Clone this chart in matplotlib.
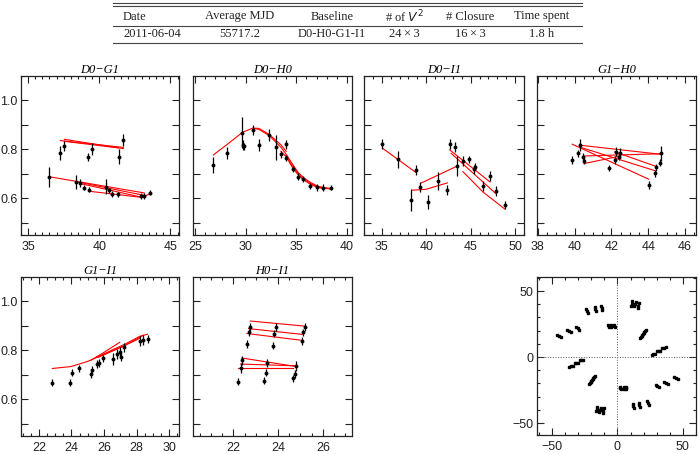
import numpy as np
import matplotlib
matplotlib.use("Agg")
import matplotlib.pyplot as plt
from matplotlib.lines import Line2D
from matplotlib.ticker import MultipleLocator, FixedLocator, NullFormatter

plt.rcParams['font.family'] = ['Liberation Sans', 'DejaVu Sans']

# table
table_header = ["Date", "Average MJD", "Baseline", "# of $V^2$", "# Closure", "Time spent"]
table_row = ["2011-06-04", "55717.2", "D0-H0-G1-I1", "24\u2009\u00d7\u20093", "16\u2009\u00d7\u20093", "1.8 h"]

# D0-G1
d0g1_x = [36.5, 37.27, 37.55, 38.37, 38.68, 38.91, 39.2, 39.27, 39.5, 40.46, 40.65, 40.89, 41.28, 41.35, 41.7, 42.93, 43.16, 43.56]
d0g1_y = [0.688, 0.784, 0.814, 0.667, 0.663, 0.644, 0.769, 0.636, 0.803, 0.647, 0.632, 0.617, 0.617, 0.770, 0.839, 0.610, 0.610, 0.623]
d0g1_err = [0.040, 0.028, 0.020, 0.030, 0.015, 0.012, 0.015, 0.010, 0.025, 0.030, 0.012, 0.012, 0.010, 0.030, 0.025, 0.012, 0.012, 0.010]
d0g1_model = [([37.27, 41.7], [0.836, 0.808]),
              ([37.55, 41.7], [0.841, 0.803]),
              ([37.55, 41.35], [0.833, 0.806]),
              ([36.5, 43.16], [0.688, 0.622]),
              ([38.37, 43.16], [0.668, 0.612]),
              ([38.68, 42.93], [0.660, 0.605]),
              ([39.27, 42.95, 43.56], [0.629, 0.604, 0.618])]

# D0-H0
d0h0_x = [26.8, 28.12, 29.64, 29.74, 29.85, 30.72, 31.3, 32.26, 32.95, 33.48, 34.0, 33.95, 34.67, 35.2, 35.7, 36.4, 37.07, 37.6, 38.4]
d0h0_y = [0.735, 0.784, 0.869, 0.817, 0.812, 0.880, 0.817, 0.858, 0.808, 0.780, 0.820, 0.765, 0.72, 0.688, 0.680, 0.649, 0.645, 0.644, 0.644]
d0h0_err = [0.033, 0.025, 0.062, 0.02, 0.015, 0.02, 0.025, 0.025, 0.052, 0.015, 0.02, 0.012, 0.012, 0.015, 0.012, 0.012, 0.015, 0.015, 0.012]
d0h0_model = [([26.8, 28.1, 29.7, 30.7, 31.3, 32.3, 33.5, 34.0],
               [0.777, 0.818, 0.870, 0.887, 0.886, 0.862, 0.818, 0.792]),
              ([30.7, 31.3, 32.3, 33.5, 34.0, 34.7, 35.2, 35.7, 36.4, 37.1, 37.6, 38.4],
               [0.886, 0.882, 0.857, 0.808, 0.780, 0.735, 0.705, 0.685, 0.665, 0.650, 0.645, 0.640]),
              ([33.48, 34.0, 34.67, 35.2, 35.7, 36.4, 37.07, 37.6, 38.4],
               [0.792, 0.770, 0.730, 0.700, 0.680, 0.660, 0.647, 0.642, 0.638]),
              ([33.95, 34.67, 35.2, 35.7, 36.4, 37.07, 37.6],
               [0.775, 0.722, 0.695, 0.676, 0.657, 0.645, 0.641])]

# D0-I1
d0i1_x = [35.07, 36.84, 38.82, 38.3, 39.35, 40.2, 41.33, 42.38, 42.64, 43.24, 43.5, 44.13, 44.78, 45.4, 45.45, 46.38, 47.17, 47.84, 48.85]
d0i1_y = [0.823, 0.760, 0.715, 0.595, 0.647, 0.585, 0.671, 0.633, 0.823, 0.809, 0.732, 0.753, 0.760, 0.718, 0.730, 0.649, 0.691, 0.629, 0.572]
d0i1_err = [0.02, 0.035, 0.02, 0.045, 0.02, 0.03, 0.035, 0.02, 0.02, 0.02, 0.04, 0.02, 0.015, 0.02, 0.015, 0.02, 0.02, 0.02, 0.015]
d0i1_model = [([35.07, 38.82], [0.805, 0.706]),
              ([38.4, 40.0, 42.38], [0.633, 0.637, 0.663]),
              ([39.35, 43.5], [0.661, 0.732]),
              ([42.64, 47.17], [0.798, 0.667]),
              ([42.8, 47.84], [0.784, 0.619]),
              ([44.13, 46.38, 48.85], [0.709, 0.626, 0.556])]

# G1-H0
g1h0_x = [39.87, 40.2, 40.3, 40.46, 40.51, 41.84, 42.17, 42.24, 42.44, 42.42, 44.03, 44.36, 44.45, 44.65, 44.67]
g1h0_y = [0.757, 0.784, 0.819, 0.770, 0.754, 0.725, 0.757, 0.791, 0.784, 0.770, 0.654, 0.702, 0.727, 0.746, 0.784]
g1h0_err = [0.015, 0.015, 0.025, 0.015, 0.015, 0.012, 0.015, 0.02, 0.02, 0.015, 0.015, 0.015, 0.015, 0.015, 0.03]
g1h0_model = [([39.87, 44.03], [0.821, 0.678]),
              ([40.3, 44.36], [0.809, 0.713]),
              ([40.3, 44.67], [0.817, 0.780]),
              ([40.46, 44.67], [0.773, 0.782]),
              ([40.51, 42.44], [0.742, 0.772]),
              ([42.17, 44.45], [0.790, 0.730])]

# G1-I1
g1i1_x = [22.82, 23.93, 24.06, 24.45, 25.19, 25.25, 25.54, 25.66, 25.95, 26.57, 26.77, 26.96, 27.04, 27.23, 28.22, 28.42, 28.67]
g1i1_y = [0.668, 0.668, 0.709, 0.726, 0.704, 0.720, 0.745, 0.748, 0.767, 0.766, 0.785, 0.792, 0.775, 0.812, 0.837, 0.841, 0.847]
g1i1_err = [0.015, 0.015, 0.015, 0.015, 0.015, 0.015, 0.015, 0.015, 0.015, 0.025, 0.02, 0.02, 0.02, 0.02, 0.02, 0.02, 0.015]
g1i1_model = [([22.82, 23.97, 25.0, 25.7, 26.5, 27.3, 28.2, 28.67],
               [0.726, 0.734, 0.755, 0.776, 0.802, 0.826, 0.858, 0.866]),
              ([25.2, 25.95, 26.96], [0.760, 0.790, 0.833]),
              ([25.5, 26.5, 27.23, 28.42], [0.770, 0.798, 0.818, 0.862]),
              ([25.66, 26.77, 28.22], [0.772, 0.805, 0.850])]

# H0-I1
h0i1_x = [22.22, 22.33, 22.37, 22.61, 22.68, 22.76, 23.35, 23.45, 23.52, 23.75, 23.81, 23.92, 24.65, 24.74, 24.81, 25.07, 25.12, 25.21]
h0i1_y = [0.672, 0.727, 0.759, 0.826, 0.874, 0.895, 0.676, 0.709, 0.748, 0.819, 0.869, 0.896, 0.686, 0.704, 0.737, 0.839, 0.874, 0.896]
h0i1_err = [0.015, 0.02, 0.02, 0.015, 0.015, 0.015, 0.015, 0.015, 0.015, 0.015, 0.015, 0.015, 0.015, 0.015, 0.02, 0.015, 0.015, 0.015]
h0i1_model = [([22.76, 25.21], [0.920, 0.899]),
              ([22.68, 25.12], [0.889, 0.865]),
              ([22.61, 25.07], [0.869, 0.841]),
              ([22.37, 24.81], [0.769, 0.734]),
              ([22.33, 24.74], [0.744, 0.737]),
              ([22.22, 24.65], [0.727, 0.727])]

# uv coverage (one half; the other half is the conjugate -u, -v)
uv_u = [-44.8, -37.2, -30.3, -23.1, -16.8, -12.2, -6.6, -4.8, -2.3,
        11.0, 13.5, 16.0, 17.8, 19.2, 20.8, 27.5, 31.5, 35.5]
uv_v = [15.9, 19.7, 21.7, 34.8, 36.4, 36.9, 23.5, 23.5, 23.5,
        40.5, 40.0, 39.0, 15.0, 17.5, 19.8, 2.0, 4.5, 7.0]
channel_scale = [0.96, 1.0, 1.04]

panels = [
    ("D0\u2212G1", d0g1_x, d0g1_y, d0g1_err, d0g1_model, (34.5, 45.6), [35, 40, 45], 0.5),
    ("D0\u2212H0", d0h0_x, d0h0_y, d0h0_err, d0h0_model, (24.8, 40.5), [25, 30, 35, 40], 1.0),
    ("D0\u2212I1", d0i1_x, d0i1_y, d0i1_err, d0i1_model, (33.0, 51.0), [35, 40, 45, 50], 1.0),
    ("G1\u2212H0", g1h0_x, g1h0_y, g1h0_err, g1h0_model, (37.95, 46.6), [38, 40, 42, 44, 46], 0.5),
    ("G1\u2212I1", g1i1_x, g1i1_y, g1i1_err, g1i1_model, (20.9, 30.6), [22, 24, 26, 28, 30], 0.5),
    ("H0\u2212I1", h0i1_x, h0i1_y, h0i1_err, h0i1_model, (20.2, 27.3), [22, 24, 26], 0.5),
]

W, H = 700, 454
fig = plt.figure(figsize=(7, 4.54), dpi=100)

# panel boxes in pixels (left, top, right, bottom)
boxes = [(21, 76, 179, 235), (193, 76, 352, 235), (364, 76, 524, 235), (537, 76, 696, 235),
         (21, 277, 179, 436), (193, 277, 352, 436)]
uv_box = (537, 277, 696, 435)


def add_ax(box):
    l, t, r, b = box
    return fig.add_axes([l / W, 1 - b / H, (r - l) / W, (b - t) / H])


def style(ax):
    ax.tick_params(direction='in', which='both', top=True, right=True,
                   labelsize=9, width=0.8, colors='#222222')
    ax.tick_params(axis='x', pad=4)
    ax.tick_params(axis='y', pad=2.5)
    ax.tick_params(which='major', length=5)
    ax.tick_params(which='minor', length=2.5)
    for s in ax.spines.values():
        s.set_color('#222222')
        s.set_linewidth(0.9)


for i, (name, x, y, err, model, xlim, xmaj, xmin) in enumerate(panels):
    ax = add_ax(boxes[i])
    for mx, my in model:
        ax.plot(mx, my, color='red', lw=0.8, zorder=2)
    ax.errorbar(x, y, yerr=err, fmt='o', ms=1.8, color='black', ecolor='black',
                elinewidth=0.9, capsize=0, zorder=3)
    ax.set_xlim(*xlim)
    ax.set_ylim(0.45, 1.1)
    ax.xaxis.set_major_locator(FixedLocator(xmaj))
    ax.xaxis.set_minor_locator(MultipleLocator(xmin))
    ax.yaxis.set_major_locator(FixedLocator([0.6, 0.8, 1.0]))
    ax.yaxis.set_minor_locator(FixedLocator([0.5, 0.7, 0.9]))
    ax.set_yticklabels(['0.6', '0.8', '1.0'])
    if i not in (0, 4):
        ax.yaxis.set_major_formatter(NullFormatter())
    style(ax)
    ax.tick_params(axis='y', which='minor', length=5)
    ax.set_title(name, fontsize=9, family='Liberation Serif', style='italic', pad=1.5)

# uv plane
ax = add_ax(uv_box)
for f in channel_scale:
    uu = np.array(uv_u) * f
    vv = np.array(uv_v) * f
    ax.plot(uu, vv, 's', ms=1.6, color='black')
    ax.plot(-uu, -vv, 's', ms=1.6, color='black')
ax.axhline(0, color='#555555', lw=0.7, ls=':')
ax.axvline(0, color='#555555', lw=0.7, ls=':')
ax.set_xlim(-61.5, 60)
ax.set_ylim(-59, 60.6)
ax.xaxis.set_major_locator(FixedLocator([-50, 0, 50]))
ax.yaxis.set_major_locator(FixedLocator([-50, 0, 50]))
ax.xaxis.set_minor_locator(MultipleLocator(10))
ax.yaxis.set_minor_locator(MultipleLocator(10))
ax.set_xticklabels(['\u221250', '0', '50'])
ax.set_yticklabels(['\u221250', '0', '50'])
style(ax)

# table on top
tx0, tx1 = 113 / W, 582 / W
line_kw = dict(color='#444444', lw=0.8, transform=fig.transFigure)
for ypx in (3.0, 5.5, 26.0, 42.5):
    fig.add_artist(Line2D([tx0, tx1], [1 - ypx / H, 1 - ypx / H], **line_kw))

col_x = [123, 240, 332, 404, 470, 542]
txt_kw = dict(fontsize=9, family='Liberation Serif', color='#222222', va='center')
for j, (hd, val) in enumerate(zip(table_header, table_row)):
    ha = 'left' if j == 0 else 'center'
    fig.text(col_x[j] / W, 1 - 16.5 / H, hd, ha=ha, **txt_kw)
    fig.text(col_x[j] / W, 1 - 34.0 / H, val, ha=ha, **txt_kw)

fig.savefig("out.png", dpi=100)
